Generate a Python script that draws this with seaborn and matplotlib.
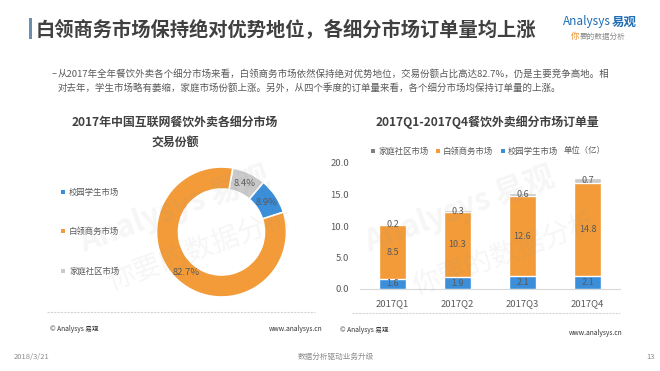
import matplotlib
matplotlib.use("Agg")
import matplotlib.pyplot as plt
import seaborn as sns
import pandas as pd
import numpy as np
from matplotlib.patches import Rectangle
from matplotlib.lines import Line2D

# ---------------- data ----------------
pie_labels = ["家庭社区市场", "校园学生市场", "白领商务市场"]
pie_values = [8.4, 8.9, 82.7]
legend_left = ["校园学生市场", "白领商务市场", "家庭社区市场"]

quarters = ["2017Q1", "2017Q2", "2017Q3", "2017Q4"]
student = [1.6, 1.9, 2.1, 2.1]
office = [8.5, 10.3, 12.6, 14.8]
family = [0.2, 0.3, 0.6, 0.7]
yticks = [0, 5, 10, 15, 20]

title = "白领商务市场保持绝对优势地位，各细分市场订单量均上涨"
bullet1 = "从2017年全年餐饮外卖各个细分市场来看，白领商务市场依然保持绝对优势地位，交易份额占比高达82.7%，仍是主要竞争高地。相"
bullet2 = "对去年，学生市场略有萎缩，家庭市场份额上涨。另外，从四个季度的订单量来看，各个细分市场均保持订单量的上涨。"
left_title = "2017年中国互联网餐饮外卖各细分市场\n交易份额"
right_title = "2017Q1-2017Q4餐饮外卖细分市场订单量"

# ---------------- style ----------------
sns.set_theme(style="white")
FONT = ["Noto Sans CJK SC", "DejaVu Sans"]
plt.rcParams["font.family"] = FONT

ORANGE = "#F29B38"
BLUE = "#3A8EDA"
LGRAY = "#CACACA"
DGRAY = "#808080"
TXT = "#595959"
TITLE_C = "#404040"

W, H = 660, 371
fig = plt.figure(figsize=(W / 100, H / 100), dpi=100)
fig.patch.set_facecolor("white")


def fx(x):
    return x / W


def fy(y):
    return 1 - y / H


def ftext(x, y, s, **kw):
    kw.setdefault("va", "center")
    kw.setdefault("ha", "left")
    kw.setdefault("family", FONT)
    fig.text(fx(x), fy(y), s, **kw)


# ---------------- header ----------------
fig.add_artist(Rectangle((fx(29), fy(39)), 2.5 / W, 21 / H, transform=fig.transFigure,
                         color="#6A8FB0", lw=0))
ftext(36, 29, title, fontsize=13.9, fontweight="bold", color=TITLE_C)
ftext(563, 22, "Analysys", fontsize=8.5, color="#1E6DB5", style="italic")
ftext(612, 22, "易观", fontsize=9, color="#1E6DB5", fontweight="bold")
ftext(571, 37, "你", fontsize=6, color="#F08A24")
ftext(580, 37, "要的数据分析", fontsize=5.5, color="#8A8A8A", style="italic")

ftext(52, 74, "–", fontsize=6.8, color=TXT)
ftext(58, 74, bullet1, fontsize=6.8, color=TXT)
ftext(58, 88, bullet2, fontsize=6.8, color=TXT)

# ---------------- left: donut ----------------
ftext(175, 122, left_title.split("\n")[0], fontsize=8.6, fontweight="bold", color=TITLE_C, ha="center")
ftext(175, 142, left_title.split("\n")[1], fontsize=8.6, fontweight="bold", color=TITLE_C, ha="center")

cx, cy, R = 221.5, 232, 65
half = 75
axp = fig.add_axes([fx(cx - half), fy(cy + half), 2 * half / W, 2 * half / H])
pie_colors = [LGRAY, BLUE, ORANGE]
wedges, _, autotexts = axp.pie(
    pie_values, colors=pie_colors, startangle=80, counterclock=False,
    radius=1, wedgeprops=dict(width=22 / 65, edgecolor="white", linewidth=1.2),
    autopct=lambda p: f"{p:.1f}%", pctdistance=0.83,
    textprops=dict(color=TXT, fontsize=6.8))
axp.set_xlim(-half / R, half / R)
axp.set_ylim(-half / R, half / R)
axp.set_aspect("equal")
axp.axis("off")

leg_col = {"校园学生市场": BLUE, "白领商务市场": ORANGE, "家庭社区市场": LGRAY}
for lab, yy in zip(legend_left, [192, 231, 271]):
    fig.add_artist(Rectangle((fx(61), fy(yy + 2)), 4 / W, 4 / H, transform=fig.transFigure,
                             color=leg_col[lab], lw=0))
    ftext(69, yy, lab, fontsize=6, color=TXT)

# separators & footers
for x0, x1, yy in [(47, 315, 312), (352, 620, 313)]:
    fig.add_artist(Line2D([fx(x0), fx(x1)], [fy(yy), fy(yy)], transform=fig.transFigure,
                          color="#D5D5D5", lw=0.8, ls=(0, (2, 1))))
ftext(50, 329, "© Analysys 易观", fontsize=4.8, color="#333333")
ftext(322, 329, "www.analysys.cn", fontsize=4.8, color="#333333", ha="right")
ftext(340, 330, "© Analysys 易观", fontsize=4.8, color="#333333")
ftext(622, 333, "www.analysys.cn", fontsize=4.8, color="#333333", ha="right")

# ---------------- right: stacked bars ----------------
ftext(487, 122, right_title, fontsize=8.6, fontweight="bold", color=TITLE_C, ha="center")

df = pd.DataFrame({"quarter": quarters, "student": student, "office": office, "family": family})
df["s_o"] = df["student"] + df["office"]
df["total"] = df["s_o"] + df["family"]

axb = fig.add_axes([fx(360), fy(289), 260 / W, 126 / H])
bw = 0.42
sns.barplot(data=df, x="quarter", y="total", color=LGRAY, width=bw, saturation=1, ax=axb, zorder=2)
sns.barplot(data=df, x="quarter", y="s_o", color=ORANGE, width=bw, saturation=1, ax=axb, zorder=3)
sns.barplot(data=df, x="quarter", y="student", color=BLUE, width=bw, saturation=1, ax=axb, zorder=4)

for i, r in df.iterrows():
    axb.text(i, r["student"] / 2, f"{r['student']:.1f}", ha="center", va="center", fontsize=6.5, color=TXT, zorder=6)
    axb.text(i, r["student"] + r["office"] / 2, f"{r['office']:.1f}", ha="center", va="center", fontsize=6.5, color=TXT, zorder=6)
    axb.text(i, r["s_o"] + r["family"] / 2, f"{r['family']:.1f}", ha="center", va="center", fontsize=6.5, color=TXT, zorder=6)

axb.set_ylim(0, 20)
axb.set_xlim(-0.5, 3.5)
axb.set_yticks(yticks)
axb.set_yticklabels([f"{v:.1f}" for v in yticks])
axb.set_xlabel("")
axb.set_ylabel("")
axb.tick_params(axis="both", length=0, labelsize=6.8, labelcolor=TXT)
axb.tick_params(axis="y", pad=8)
axb.tick_params(axis="x", pad=7)
for s in ["left", "right", "top"]:
    axb.spines[s].set_visible(False)
axb.spines["bottom"].set_color("#D9D9D9")
axb.spines["bottom"].set_linewidth(0.8)
axb.set_facecolor("none")

# right legend
for x, lab, col in [(371, "家庭社区市场", DGRAY), (436, "白领商务市场", ORANGE), (501, "校园学生市场", BLUE)]:
    fig.add_artist(Rectangle((fx(x), fy(153)), 4 / W, 4 / H, transform=fig.transFigure, color=col, lw=0))
    ftext(x + 7, 151, lab, fontsize=6, color=TXT)
ftext(564, 151, "单位（亿）", fontsize=6, color=TXT)

# ---------------- watermarks ----------------
wm = dict(color="#9A9A9A", alpha=0.09, rotation=20, ha="center", va="center", family=FONT)
fig.text(fx(175), fy(210), "Analysys 易观", fontsize=22, fontweight="bold", **wm)
fig.text(fx(200), fy(250), "你要的数据分析", fontsize=20, **wm)
fig.text(fx(460), fy(210), "Analysys 易观", fontsize=22, fontweight="bold", **wm)
fig.text(fx(505), fy(255), "你要的数据分析", fontsize=20, **wm)

# ---------------- bottom footer ----------------
ftext(14, 357, "2018/3/21", fontsize=5.5, color="#8C8C8C")
ftext(336, 357, "数据分析驱动业务升级", fontsize=5.5, color="#8C8C8C", ha="center")
ftext(655, 357, "13", fontsize=5.5, color="#8C8C8C", ha="right")

fig.savefig("out.png", dpi=100, facecolor="white")
